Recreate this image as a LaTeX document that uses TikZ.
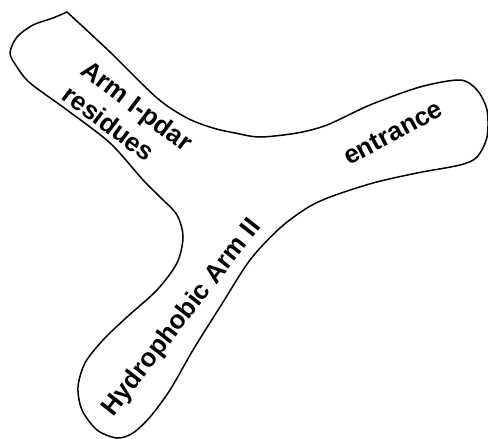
\documentclass[tikz,border=0pt]{standalone}
\usepackage{fontspec}
\setmainfont{Liberation Sans}
\begin{document}
\begin{tikzpicture}[x=1pt,y=-1pt,
  outline/.style={line width=1.5pt,line join=round,line cap=round},
  lbl/.style={font=\fontsize{26}{31}\selectfont\bfseries,inner sep=0pt}]
\useasboundingbox (0,0) rectangle (488,439);
\draw[outline] plot[smooth,tension=0.5] coordinates {
 (67,12) (110,52) (157,98) (187,118) (213,128) (235,133) (260,137) (297,133)
 (327,125) (370,105) (420,87) (460,80) (477,90) (487,110) (487,137)
 (477,157) (460,165) (417,173) (373,183) (330,197) (307,208) (280,228)
 (250,260) (220,307) (193,350) (170,390) (150,417) (133,433) (117,438)
 (97,430) (82,410) (78,387) (85,363) (103,340) (127,317) (157,290)
 (177,263) (183,237) (177,215) (160,197) (143,180) (110,143) (67,110)
 (30,83) (17,67) (10,53) (17,37) (33,25) (53,18) (67,12)};
\node[lbl,align=left,rotate=-37] (arm1) at (128,118) {Arm I-pdar\\residues};
\node[lbl,rotate=28] (ent) at (393,133) {entrance};
\node[lbl,rotate=52] (arm2) at (182,318) {Hydrophobic Arm II};
\end{tikzpicture}
\end{document}
